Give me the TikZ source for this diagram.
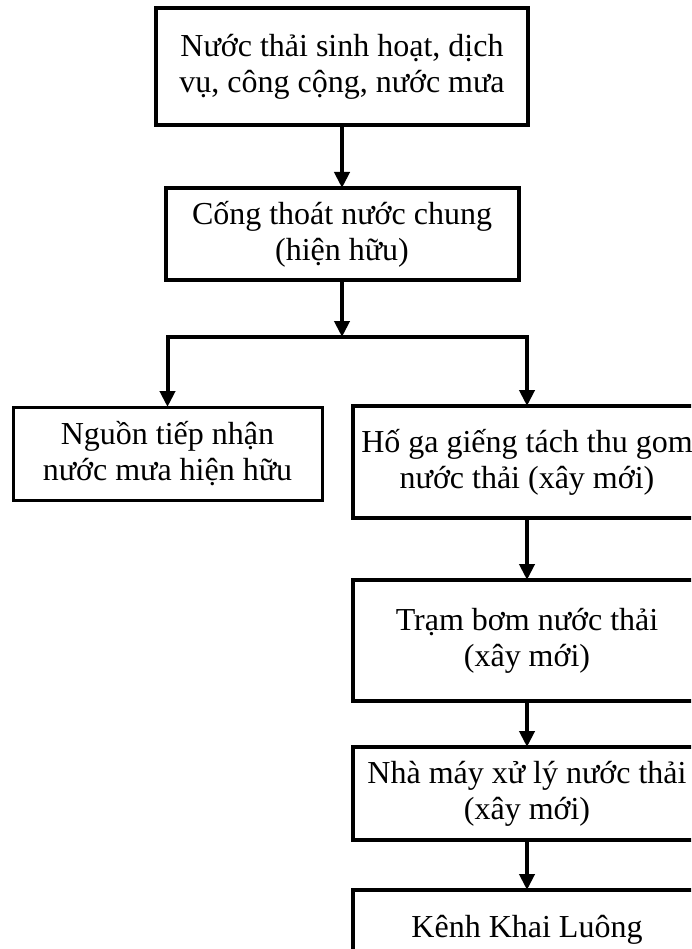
\documentclass[tikz,border=0pt]{standalone}
\usepackage{fontspec}
\setmainfont{Liberation Serif}
\usetikzlibrary{arrows.meta,positioning}
\tikzstyle{process} = [rectangle, draw=black, line width=4pt, inner sep=2pt, outer sep=0pt, align=center, font=\fontsize{32}{36}\selectfont]
\tikzstyle{arrow} = [-{Triangle[length=16pt,width=15pt]}, line width=4pt]
\begin{document}
\begin{tikzpicture}[x=1pt, y=-1pt]
  \clip (0,0) rectangle (691,949);
  \node[process, minimum width=372pt, minimum height=117pt](nt) at (342,67){Nước thải sinh hoạt, dịch\\vụ, công cộng, nước mưa};
  \node[process, minimum width=353pt, minimum height=92pt](cong) at (342,234){Cống thoát nước chung\\(hiện hữu)};
  \coordinate (sp) at (342,337);
  \node[process, line width=3pt, minimum width=309pt, minimum height=93pt](nguon) at (167.5,453.5){Nguồn tiếp nhận\\nước mưa hiện hữu};
  \node[process, minimum width=348pt, minimum height=112pt](hoga) at (527,462){Hố ga giếng tách thu gom\\nước thải (xây mới)};
  \node[process, minimum width=348pt, minimum height=121pt](tram) at (527,640.5){Trạm bơm nước thải\\(xây mới)};
  \node[process, minimum width=348pt, minimum height=93pt](nmxl) at (527,793.5){Nhà máy xử lý nước thải\\(xây mới)};
  \node[process, minimum width=348pt, minimum height=80pt](kenh) at (527,930){Kênh Khai Luông};
  % connectors
  \draw[arrow](nt) -- (cong);
  \draw[arrow](cong) -- (sp);
  \draw[arrow](sp) -| (nguon.north);
  \draw[arrow](sp) -| (hoga.north);
  \draw[arrow](hoga) -- (tram);
  \draw[arrow](tram) -- (nmxl);
  \draw[arrow](nmxl) -- (kenh);
\end{tikzpicture}
\end{document}
